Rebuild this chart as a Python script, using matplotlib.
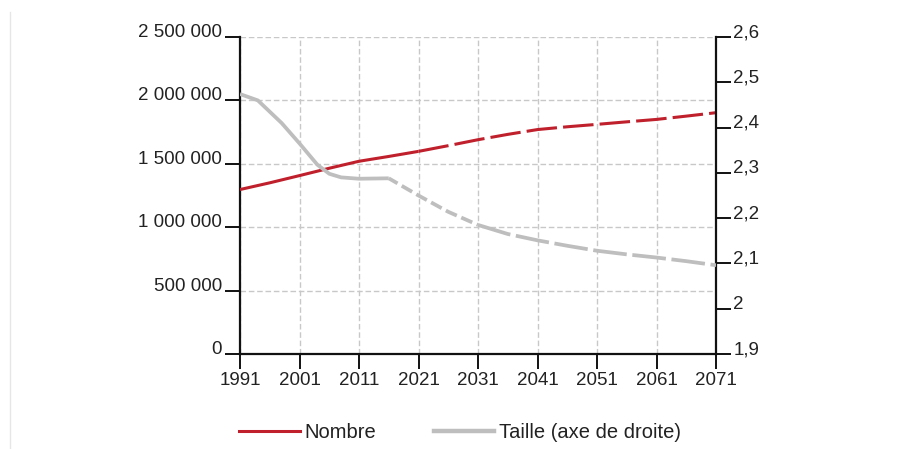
import matplotlib
matplotlib.use("Agg")
import matplotlib.pyplot as plt
from matplotlib.lines import Line2D
from matplotlib.ticker import FuncFormatter

plt.rcParams['font.family'] = ['Liberation Sans', 'DejaVu Sans']

# ---- data ----
annees_nombre = [1991, 1996, 2001, 2006, 2011, 2016, 2021, 2026, 2031, 2036,
                 2041, 2046, 2051, 2056, 2061, 2066, 2071]
nombre = [1297000, 1350000, 1407000, 1465000, 1520000, 1558000, 1598000, 1643000,
          1690000, 1732000, 1770000, 1792000, 1811000, 1831000, 1850000, 1876000, 1903000]
fin_obs_nombre = 2021

annees_taille = [1991, 1994, 1998, 2001, 2004, 2006, 2008, 2011, 2016, 2021,
                 2026, 2031, 2036, 2041, 2046, 2051, 2056, 2061, 2066, 2071]
taille = [2.474, 2.460, 2.410, 2.365, 2.318, 2.298, 2.290, 2.287, 2.288, 2.250,
          2.214, 2.185, 2.165, 2.151, 2.139, 2.128, 2.120, 2.113, 2.105, 2.096]
fin_obs_taille = 2016
debut_tirets_longs = 2031

xticks = [1991, 2001, 2011, 2021, 2031, 2041, 2051, 2061, 2071]
yticks_gauche = [0, 500000, 1000000, 1500000, 2000000, 2500000]
yticks_droite = [1.9, 2.0, 2.1, 2.2, 2.3, 2.4, 2.5, 2.6]
labels_droite = ["1,9", "2", "2,1", "2,2", "2,3", "2,4", "2,5", "2,6"]

ROUGE = "#C0202C"
GRIS = "#BEBEBE"
TXT = "#222222"
FS = 13.5
FS_LEG = 14.5

fig = plt.figure(figsize=(9.01, 4.49), dpi=100)
W, H = 901, 449
ax = fig.add_axes([240 / W, 1 - 354 / H, (716 - 240) / W, (354 - 37) / H])
ax2 = ax.twinx()

# faint frame line at left
fig.add_artist(Line2D([10 / W, 10 / W], [0, 1 - 12 / H], color="#E6E6E6", lw=1.0,
                      transform=fig.transFigure))


def seg(xs, ys, lo, hi):
    pts = [(x, y) for x, y in zip(xs, ys) if lo <= x <= hi]
    return [p[0] for p in pts], [p[1] for p in pts]


x0, y0 = seg(annees_nombre, nombre, 0, fin_obs_nombre)
ax.plot(x0, y0, color=ROUGE, lw=2.2, solid_capstyle='butt', zorder=5)
x1, y1 = seg(annees_nombre, nombre, fin_obs_nombre, 9999)
ax.plot(x1, y1, color=ROUGE, lw=2.2, ls=(0, (10, 2)), dash_capstyle='butt', zorder=5)

x0, y0 = seg(annees_taille, taille, 0, fin_obs_taille)
ax2.plot(x0, y0, color=GRIS, lw=2.7, solid_capstyle='butt', zorder=4)
x1, y1 = seg(annees_taille, taille, fin_obs_taille, debut_tirets_longs)
ax2.plot(x1, y1, color=GRIS, lw=2.7, ls=(0.5, (3.2, 1.3)), dash_capstyle='butt', zorder=4)
x2, y2 = seg(annees_taille, taille, debut_tirets_longs, 9999)
ax2.plot(x2, y2, color=GRIS, lw=2.7, ls=(0, (9, 1.5)), dash_capstyle='butt', zorder=4)

ax.set_xlim(1991, 2071)
ax.set_ylim(0, 2500000)
ax2.set_ylim(1.9, 2.6)

ax.set_xticks(xticks)
ax.set_yticks(yticks_gauche)
ax.yaxis.set_major_formatter(FuncFormatter(lambda v, p: f"{int(v):,}".replace(",", " ")))
ax2.set_yticks(yticks_droite)
ax2.set_yticklabels(labels_droite)

ax.grid(True, color="#C8C8C8", lw=1.0, ls=(0, (4, 2)))
ax.set_axisbelow(True)

for a in (ax, ax2):
    a.spines['top'].set_visible(False)
    for s in a.spines.values():
        s.set_linewidth(1.6)
        s.set_color("#111111")
ax.spines['right'].set_visible(False)
ax2.spines['left'].set_visible(False)
ax2.spines['bottom'].set_visible(False)

ax.tick_params(axis='y', direction='out', length=11, width=1.4, pad=2, labelsize=FS,
               labelcolor=TXT, color="#111111")
ax.tick_params(axis='x', direction='out', length=11, width=1.4, pad=2, labelsize=FS,
               labelcolor=TXT, color="#111111")
ax2.tick_params(axis='y', direction='out', length=11, width=1.4, pad=1.5, labelsize=FS,
                labelcolor=TXT, color="#111111")
for lab in ax.get_yticklabels():
    lab.set_va('baseline')
for lab in ax2.get_yticklabels():
    lab.set_va('baseline')

handles = [Line2D([], [], color=ROUGE, lw=2.2), Line2D([], [], color=GRIS, lw=3.2)]
fig.legend(handles, ["Nombre", "Taille (axe de droite)"], loc='center',
           bbox_to_anchor=(460 / W, 1 - 433 / H), ncol=2, frameon=False, fontsize=FS_LEG,
           handlelength=3.0, handletextpad=0.2, columnspacing=2.9, labelcolor=TXT)

fig.savefig("out.png", dpi=100, facecolor="white")
